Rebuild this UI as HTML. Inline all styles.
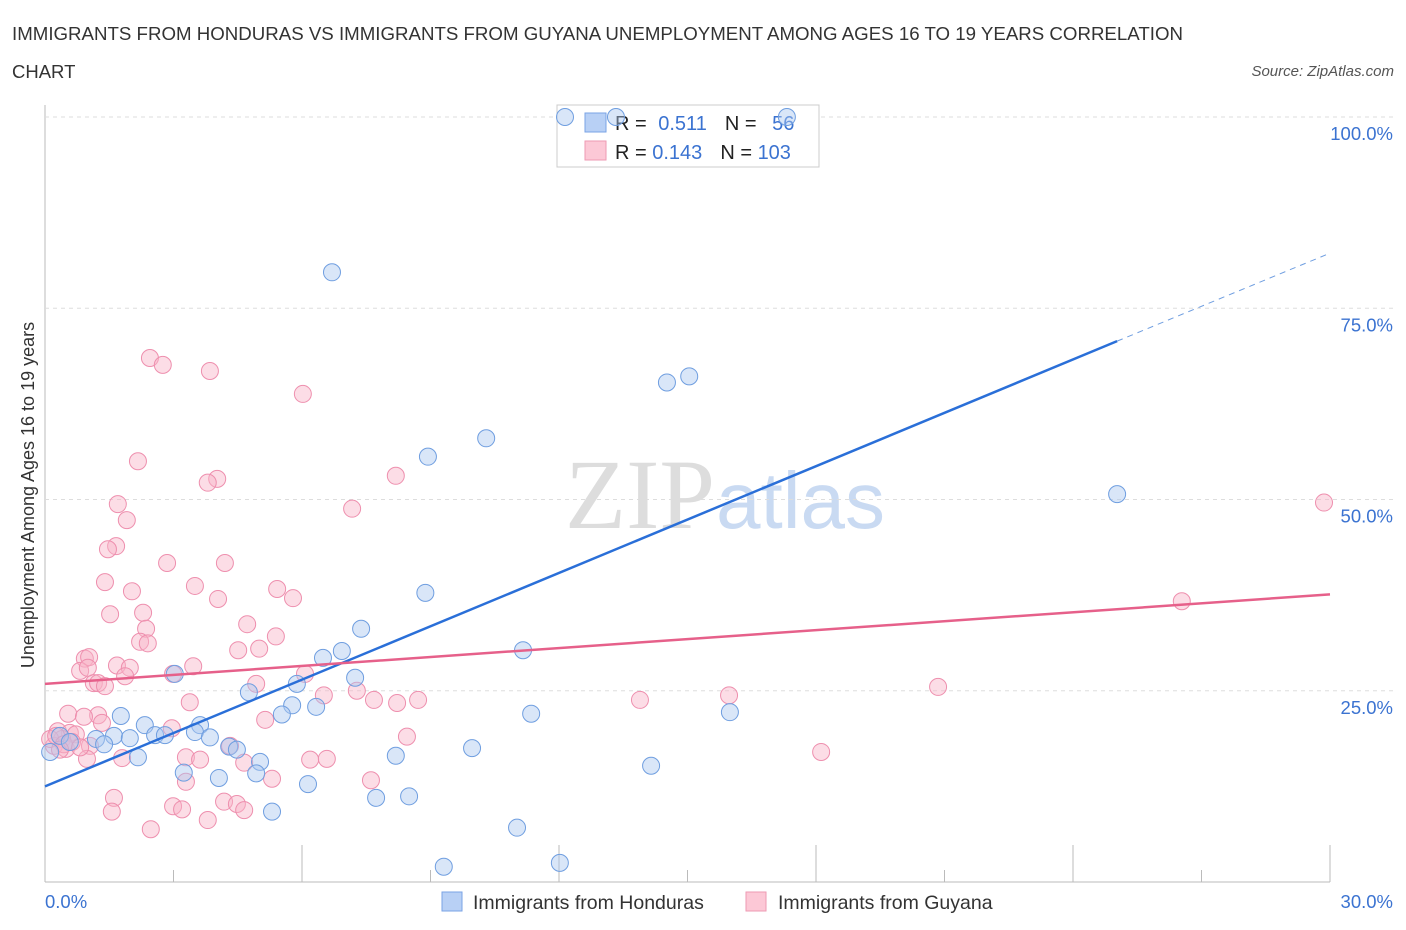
<!DOCTYPE html>
<html><head><meta charset="utf-8"><style>
body{margin:0;background:#fff;font-family:"Liberation Sans",sans-serif}
#wrap{position:relative;width:1406px;height:930px;overflow:hidden}
</style></head><body>
<div id="wrap">
<svg id="svg" width="1406" height="930" xmlns="http://www.w3.org/2000/svg">
<text x="12" y="40" font-size="18.5" fill="#333" textLength="1171" lengthAdjust="spacingAndGlyphs">IMMIGRANTS FROM HONDURAS VS IMMIGRANTS FROM GUYANA UNEMPLOYMENT AMONG AGES 16 TO 19 YEARS CORRELATION</text>
<text x="12" y="78" font-size="18.5" fill="#333">CHART</text>
<text x="1394" y="76" font-size="15" fill="#555" font-style="italic" text-anchor="end">Source: ZipAtlas.com</text>
<text x="715" y="528" font-size="100" font-family="Liberation Serif,serif" fill="#ddd" text-anchor="end">ZIP</text>
<text x="716" y="528" font-size="80" fill="#c9daf2">atlas</text>
<text transform="translate(34,495) rotate(-90)" font-size="18" fill="#333" text-anchor="middle">Unemployment Among Ages 16 to 19 years</text>
<g id="grid"></g>
<g>
<rect x="557" y="105" width="262" height="62" fill="#fff" stroke="#ccc"/>
<rect x="585" y="113" width="21" height="19" fill="#b8d0f5" stroke="#7aa3e5"/>
<rect x="585" y="141" width="21" height="19" fill="#fcc8d6" stroke="#ee9ab3"/>
<text x="615" y="130" font-size="20" fill="#222">R = <tspan fill="#3b73d1" dx="6">0.511</tspan><tspan dx="18">N = </tspan><tspan fill="#3b73d1" dx="10">56</tspan></text>
<text x="615" y="159" font-size="20" fill="#222">R = <tspan fill="#3b73d1">0.143</tspan><tspan dx="18">N = </tspan><tspan fill="#3b73d1">103</tspan></text>
</g>
<g id="pts"></g><g id="lines"></g>
<g>
<rect x="442" y="892" width="20" height="19" fill="#b8d0f5" stroke="#7aa3e5"/>
<text x="473" y="909" font-size="19.5" fill="#333">Immigrants from Honduras</text>
<rect x="746" y="892" width="20" height="19" fill="#fcc8d6" stroke="#ee9ab3"/>
<text x="778" y="909" font-size="19.5" fill="#333">Immigrants from Guyana</text>
</g>
</svg>
</div>
<script>
const xTickLabels=["0.0%","30.0%"];
const yTickValues=[25,50,75,100];
const yTickLabels=["25.0%","50.0%","75.0%","100.0%"];
const hondurasX=[12.14,13.33,17.32,6.70,8.94,10.30,14.52,15.04,25.03,8.88,7.38,6.93,6.49,11.16,7.24,5.88,3.03,4.76,5.77,6.33,5.53,1.77,2.33,3.62,11.35,15.99,0.35,1.19,1.61,1.98,2.57,2.80,3.50,3.85,4.30,4.48,5.02,9.97,8.19,2.17,3.24,4.06,4.93,6.14,5.30,7.73,8.50,11.02,9.31,12.02,14.15,0.12,0.58,1.38];
const hondurasY=[100,100,100,79.7,55.6,58.0,65.3,66.1,50.7,37.8,33.1,30.2,29.3,30.3,26.7,25.9,27.2,24.8,23.1,22.9,21.9,21.7,20.5,20.5,22.0,22.2,19.1,18.7,19.1,18.8,19.2,19.2,19.6,18.9,17.7,17.3,15.7,17.5,16.5,16.3,14.3,13.6,14.2,12.8,9.2,11.0,11.2,7.1,2.0,2.5,15.2,17.0,18.3,18.0];
const guyanaX=[2.45,2.75,3.85,6.02,2.17,8.19,4.02,3.80,7.17,1.70,1.91,1.66,1.47,2.85,4.20,1.40,3.50,2.03,5.42,4.04,5.79,1.52,2.29,2.36,4.72,5.39,2.22,2.40,4.51,5.00,0.93,1.03,0.82,1.00,1.68,1.98,2.99,3.46,6.07,1.14,1.24,1.40,1.87,4.93,6.51,7.28,7.68,8.22,8.71,3.38,13.89,15.97,20.85,26.54,29.86,0.54,1.24,0.91,1.33,0.30,0.58,0.72,0.40,0.21,0.49,1.05,0.98,1.80,2.96,4.32,3.29,3.62,4.65,5.14,8.45,6.19,6.58,7.61,5.30,3.29,1.61,1.56,2.99,3.20,4.18,4.48,4.65,3.80,2.47,18.12,0.12,0.26,0.44,0.63,0.82,0.35];
const guyanaY=[68.5,67.6,66.8,63.8,55.0,53.1,52.7,52.2,48.8,49.4,47.3,43.9,43.5,41.7,41.7,39.2,38.7,38.0,38.3,37.0,37.1,35.0,35.2,33.1,33.7,32.1,31.4,31.2,30.3,30.5,29.2,29.4,27.6,28.0,28.3,28.0,27.2,28.2,27.2,26.0,26.0,25.6,26.9,25.9,24.4,25.0,23.8,23.4,23.8,23.5,23.8,24.4,25.5,36.7,49.6,22.0,21.8,21.6,20.8,19.7,19.5,19.3,18.7,17.8,17.4,17.8,16.1,16.2,20.1,17.8,16.3,16.0,15.6,21.2,19.0,16.0,16.1,13.3,13.5,13.1,11.0,9.2,9.9,9.5,10.5,10.2,9.4,8.1,6.9,17.0,18.7,19.1,18.0,18.3,17.6,17.3];
const hondurasLine=[[0,12.5],[25.03,70.7]];
const hondurasDash=[[25.03,70.7],[30,82.2]];
const guyanaLine=[[0,25.9],[30,37.6]];
const NS="http://www.w3.org/2000/svg";
const X0=45,X1=1330,Y0=882,Y1=117;
function sx(v){return X0+(v/30)*(X1-X0);}
function sy(v){return Y0-(v/100)*(Y0-Y1);}
function mk(tag,attrs,parent){const e=document.createElementNS(NS,tag);for(const k in attrs)e.setAttribute(k,attrs[k]);parent.appendChild(e);return e;}
const grid=document.getElementById('grid');
mk('line',{x1:X0,y1:105,x2:X0,y2:Y0,stroke:'#bbb'},grid);
mk('line',{x1:X0,y1:Y0,x2:X1,y2:Y0,stroke:'#bbb'},grid);
for(let i=1;i<=10;i++){const l=mk('line',{x1:sx(i*3),y1:Y0,x2:sx(i*3),y2:i%2==0?845:Y0-12,stroke:'#bbb'},grid);}
yTickValues.forEach((v,i)=>{
 const g=mk('line',{x1:X0,y1:sy(v),x2:1395,y2:sy(v),stroke:'#ddd','stroke-dasharray':'4,4'},grid);
 
 const t=mk('text',{x:1393,y:sy(v)+23,'font-size':18.5,fill:'#3b73d1','text-anchor':'end'},grid);
 
 t.textContent=yTickLabels[i];
});
const tx0=mk('text',{x:45,y:908,'font-size':18.5,fill:'#3b73d1'},grid);
tx0.textContent=xTickLabels[0];
const tx1=mk('text',{x:1393,y:908,'font-size':18.5,fill:'#3b73d1','text-anchor':'end'},grid);
tx1.textContent=xTickLabels[1];
const pts=document.getElementById('pts');
guyanaX.forEach((x,i)=>{const c=mk('circle',{cx:sx(x),cy:sy(guyanaY[i]),r:8.5,fill:'rgba(248,180,200,0.45)',stroke:'#ee8fae','stroke-width':1},pts);
});
hondurasX.forEach((x,i)=>{const c=mk('circle',{cx:sx(x),cy:sy(hondurasY[i]),r:8.5,fill:'rgba(170,200,240,0.45)',stroke:'#6f9ee0','stroke-width':1},pts);
});
const lines=document.getElementById('lines');
const l1=mk('line',{x1:sx(hondurasLine[0][0]),y1:sy(hondurasLine[0][1]),x2:sx(hondurasLine[1][0]),y2:sy(hondurasLine[1][1]),stroke:'#2a6fd8','stroke-width':2.5},lines);

const l2=mk('line',{x1:sx(hondurasDash[0][0]),y1:sy(hondurasDash[0][1]),x2:sx(hondurasDash[1][0]),y2:sy(hondurasDash[1][1]),stroke:'#6f9ee0','stroke-width':1,'stroke-dasharray':'6,5'},lines);

const l3=mk('line',{x1:sx(guyanaLine[0][0]),y1:sy(guyanaLine[0][1]),x2:sx(guyanaLine[1][0]),y2:sy(guyanaLine[1][1]),stroke:'#e6608a','stroke-width':2.5},lines);

</script>
</body></html>
